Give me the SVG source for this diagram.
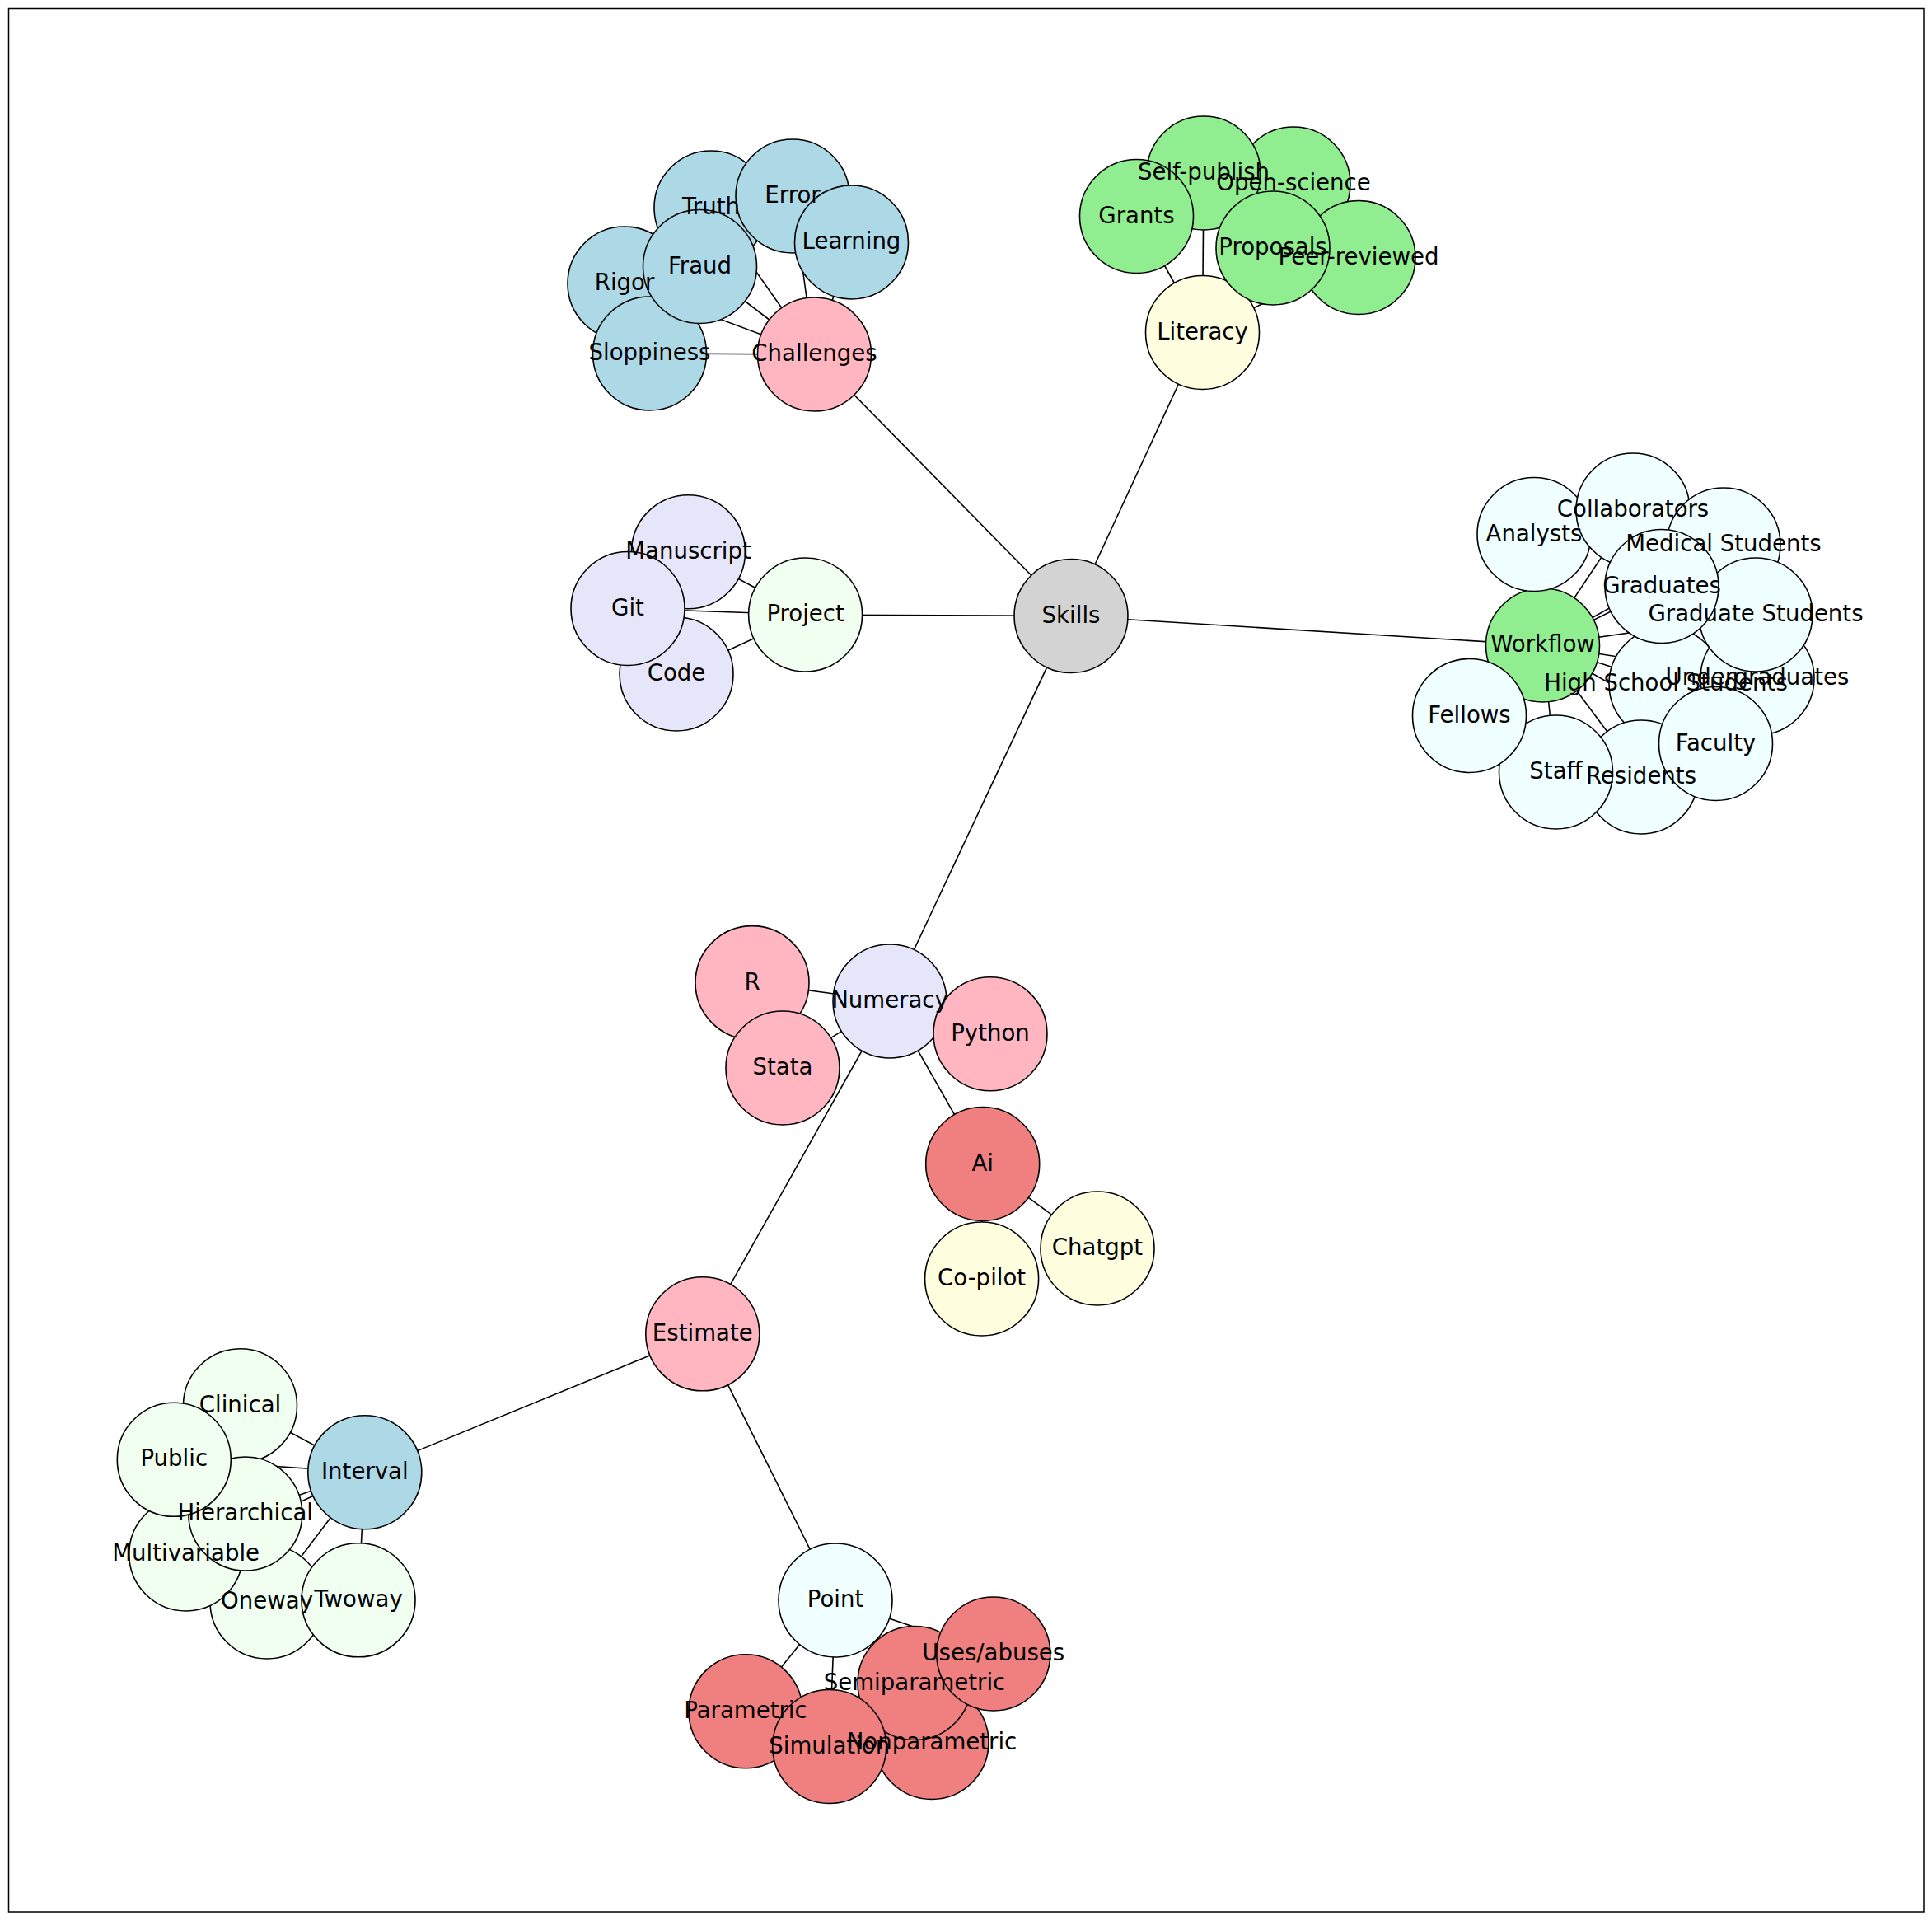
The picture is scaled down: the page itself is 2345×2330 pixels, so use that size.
<svg xmlns="http://www.w3.org/2000/svg" width="2345" height="2330" viewBox="0 0 2345 2330">
<style>
.e{stroke:#000;stroke-width:1.6;fill:none}
.n circle{stroke:#000;stroke-width:1.6}
.n text{font-family:"DejaVu Sans","Liberation Sans",sans-serif;font-size:27.6px;text-anchor:middle;fill:#000}
.gray{fill:#d3d3d3}.pink{fill:#ffb6c1}.blue{fill:#add8e6}.yel{fill:#ffffe0}.grn{fill:#90ee90}.azure{fill:#f0ffff}.hd{fill:#f0fff0}.lav{fill:#e6e6fa}.coral{fill:#f08080}
</style>
<rect x="10.5" y="10.5" width="2324.5" height="2309.5" fill="#fff" stroke="#000" stroke-width="1.5"/>
<g id="edges">
<line class="e" x1="1300" y1="747.5" x2="988.5" y2="430"/>
<line class="e" x1="1300" y1="747.5" x2="1459.5" y2="403.5"/>
<line class="e" x1="1300" y1="747.5" x2="1872.5" y2="783"/>
<line class="e" x1="1300" y1="747.5" x2="977.6" y2="746"/>
<line class="e" x1="1300" y1="747.5" x2="1080" y2="1215"/>
<line class="e" x1="988.5" y1="430" x2="863" y2="252"/>
<line class="e" x1="988.5" y1="430" x2="962" y2="238"/>
<line class="e" x1="988.5" y1="430" x2="1033.5" y2="294"/>
<line class="e" x1="988.5" y1="430" x2="758" y2="344"/>
<line class="e" x1="988.5" y1="430" x2="849.5" y2="323.5"/>
<line class="e" x1="988.5" y1="430" x2="788.5" y2="429"/>
<line class="e" x1="1459.5" y1="403.5" x2="1379.5" y2="262.5"/>
<line class="e" x1="1459.5" y1="403.5" x2="1461" y2="210"/>
<line class="e" x1="1459.5" y1="403.5" x2="1570" y2="223"/>
<line class="e" x1="1459.5" y1="403.5" x2="1545" y2="301"/>
<line class="e" x1="1459.5" y1="403.5" x2="1649" y2="312.5"/>
<line class="e" x1="1872.5" y1="783" x2="1862" y2="648.5"/>
<line class="e" x1="1872.5" y1="783" x2="1982" y2="619"/>
<line class="e" x1="1872.5" y1="783" x2="2092" y2="661"/>
<line class="e" x1="1872.5" y1="783" x2="2017" y2="711.5"/>
<line class="e" x1="1872.5" y1="783" x2="2131" y2="746"/>
<line class="e" x1="1872.5" y1="783" x2="2133" y2="823"/>
<line class="e" x1="1872.5" y1="783" x2="2022" y2="830"/>
<line class="e" x1="1872.5" y1="783" x2="1783.5" y2="868.5"/>
<line class="e" x1="1872.5" y1="783" x2="1888.5" y2="937"/>
<line class="e" x1="1872.5" y1="783" x2="1992" y2="943"/>
<line class="e" x1="1872.5" y1="783" x2="2082.5" y2="902.5"/>
<line class="e" x1="977.6" y1="746" x2="835.5" y2="669.7"/>
<line class="e" x1="977.6" y1="746" x2="762" y2="738.5"/>
<line class="e" x1="977.6" y1="746" x2="821" y2="818"/>
<line class="e" x1="1080" y1="1215" x2="913" y2="1192.6"/>
<line class="e" x1="1080" y1="1215" x2="950" y2="1296"/>
<line class="e" x1="1080" y1="1215" x2="1202" y2="1254.7"/>
<line class="e" x1="1080" y1="1215" x2="1192.7" y2="1412.5"/>
<line class="e" x1="1080" y1="1215" x2="852.8" y2="1618.8"/>
<line class="e" x1="1192.7" y1="1412.5" x2="1332" y2="1515"/>
<line class="e" x1="1192.7" y1="1412.5" x2="1191.6" y2="1552"/>
<line class="e" x1="852.8" y1="1618.8" x2="442.8" y2="1786.7"/>
<line class="e" x1="852.8" y1="1618.8" x2="1014" y2="1942"/>
<line class="e" x1="442.8" y1="1786.7" x2="291.5" y2="1705.8"/>
<line class="e" x1="442.8" y1="1786.7" x2="211.3" y2="1771.3"/>
<line class="e" x1="442.8" y1="1786.7" x2="297.8" y2="1837"/>
<line class="e" x1="442.8" y1="1786.7" x2="225.7" y2="1886"/>
<line class="e" x1="442.8" y1="1786.7" x2="324" y2="1944"/>
<line class="e" x1="442.8" y1="1786.7" x2="435" y2="1941.8"/>
<line class="e" x1="1014" y1="1942" x2="905" y2="2076.7"/>
<line class="e" x1="1014" y1="1942" x2="1006.7" y2="2119.5"/>
<line class="e" x1="1014" y1="1942" x2="1110" y2="2042.5"/>
<line class="e" x1="1014" y1="1942" x2="1131" y2="2114.5"/>
<line class="e" x1="1014" y1="1942" x2="1205.8" y2="2007"/>
</g>
<g id="nodes">
<g id="skills" class="n"><circle class="gray" cx="1300" cy="747.5" r="69"/></g>
<g id="challenges" class="n"><circle class="pink" cx="988.5" cy="430" r="69"/></g>
<g id="literacy" class="n"><circle class="yel" cx="1459.5" cy="403.5" r="69"/></g>
<g id="workflow" class="n"><circle class="grn" cx="1872.5" cy="783" r="69"/></g>
<g id="project" class="n"><circle class="hd" cx="977.6" cy="746" r="69"/></g>
<g id="numeracy" class="n"><circle class="lav" cx="1080" cy="1215" r="69"/></g>
<g id="truth" class="n"><circle class="blue" cx="863" cy="252" r="69"/></g>
<g id="error" class="n"><circle class="blue" cx="962" cy="238" r="69"/></g>
<g id="learning" class="n"><circle class="blue" cx="1033.5" cy="294" r="69"/></g>
<g id="rigor" class="n"><circle class="blue" cx="758" cy="344" r="69"/></g>
<g id="sloppiness" class="n"><circle class="blue" cx="788.5" cy="429" r="69"/></g>
<g id="fraud" class="n"><circle class="blue" cx="849.5" cy="323.5" r="69"/></g>
<g id="open-science" class="n"><circle class="grn" cx="1570" cy="223" r="69"/></g>
<g id="peer-reviewed" class="n"><circle class="grn" cx="1649" cy="312.5" r="69"/></g>
<g id="self-publish" class="n"><circle class="grn" cx="1461" cy="210" r="69"/></g>
<g id="grants" class="n"><circle class="grn" cx="1379.5" cy="262.5" r="69"/></g>
<g id="proposals" class="n"><circle class="grn" cx="1545" cy="301" r="69"/></g>
<g id="analysts" class="n"><circle class="azure" cx="1862" cy="648.5" r="69"/></g>
<g id="collaborators" class="n"><circle class="azure" cx="1982" cy="619" r="69"/></g>
<g id="medical-students" class="n"><circle class="azure" cx="2092" cy="661" r="69"/></g>
<g id="high-school-students" class="n"><circle class="azure" cx="2022" cy="830" r="69"/></g>
<g id="undergraduates" class="n"><circle class="azure" cx="2133" cy="823" r="69"/></g>
<g id="graduate-students" class="n"><circle class="azure" cx="2131" cy="746" r="69"/></g>
<g id="graduates" class="n"><circle class="azure" cx="2017" cy="711.5" r="69"/></g>
<g id="residents" class="n"><circle class="azure" cx="1992" cy="943" r="69"/></g>
<g id="staff" class="n"><circle class="azure" cx="1888.5" cy="937" r="69"/></g>
<g id="faculty" class="n"><circle class="azure" cx="2082.5" cy="902.5" r="69"/></g>
<g id="fellows" class="n"><circle class="azure" cx="1783.5" cy="868.5" r="69"/></g>
<g id="manuscript" class="n"><circle class="lav" cx="835.5" cy="669.7" r="69"/></g>
<g id="code" class="n"><circle class="lav" cx="821" cy="818" r="69"/></g>
<g id="git" class="n"><circle class="lav" cx="762" cy="738.5" r="69"/></g>
<g id="r" class="n"><circle class="pink" cx="913" cy="1192.6" r="69"/></g>
<g id="stata" class="n"><circle class="pink" cx="950" cy="1296" r="69"/></g>
<g id="python" class="n"><circle class="pink" cx="1202" cy="1254.7" r="69"/></g>
<g id="ai" class="n"><circle class="coral" cx="1192.7" cy="1412.5" r="69"/></g>
<g id="chatgpt" class="n"><circle class="yel" cx="1332" cy="1515" r="69"/></g>
<g id="co-pilot" class="n"><circle class="yel" cx="1191.6" cy="1552" r="69"/></g>
<g id="estimate" class="n"><circle class="pink" cx="852.8" cy="1618.8" r="69"/></g>
<g id="interval" class="n"><circle class="blue" cx="442.8" cy="1786.7" r="69"/></g>
<g id="point" class="n"><circle class="azure" cx="1014" cy="1942" r="69"/></g>
<g id="oneway" class="n"><circle class="hd" cx="324" cy="1944" r="69"/></g>
<g id="multivariable" class="n"><circle class="hd" cx="225.7" cy="1886" r="69"/></g>
<g id="clinical" class="n"><circle class="hd" cx="291.5" cy="1705.8" r="69"/></g>
<g id="hierarchical" class="n"><circle class="hd" cx="297.8" cy="1837" r="69"/></g>
<g id="public" class="n"><circle class="hd" cx="211.3" cy="1771.3" r="69"/></g>
<g id="twoway" class="n"><circle class="hd" cx="435" cy="1941.8" r="69"/></g>
<g id="parametric" class="n"><circle class="coral" cx="905" cy="2076.7" r="69"/></g>
<g id="nonparametric" class="n"><circle class="coral" cx="1131" cy="2114.5" r="69"/></g>
<g id="semiparametric" class="n"><circle class="coral" cx="1110" cy="2042.5" r="69"/></g>
<g id="simulation" class="n"><circle class="coral" cx="1006.7" cy="2119.5" r="69"/></g>
<g id="uses-abuses" class="n"><circle class="coral" cx="1205.8" cy="2007" r="69"/></g>
</g>
<g id="labels" class="n">
<text x="1300" y="755.5">Skills</text>
<text x="988.5" y="438">Challenges</text>
<text x="1459.5" y="411.5">Literacy</text>
<text x="1872.5" y="791">Workflow</text>
<text x="977.6" y="754">Project</text>
<text x="1080" y="1223">Numeracy</text>
<text x="863" y="260">Truth</text>
<text x="962" y="246">Error</text>
<text x="1033.5" y="302">Learning</text>
<text x="758" y="352">Rigor</text>
<text x="788.5" y="437">Sloppiness</text>
<text x="849.5" y="331.5">Fraud</text>
<text x="1570" y="231">Open-science</text>
<text x="1649" y="320.5">Peer-reviewed</text>
<text x="1461" y="218">Self-publish</text>
<text x="1379.5" y="270.5">Grants</text>
<text x="1545" y="309">Proposals</text>
<text x="1862" y="656.5">Analysts</text>
<text x="1982" y="627">Collaborators</text>
<text x="2092" y="669">Medical Students</text>
<text x="2022" y="838">High School Students</text>
<text x="2133" y="831">Undergraduates</text>
<text x="2131" y="754">Graduate Students</text>
<text x="2017" y="719.5">Graduates</text>
<text x="1992" y="951">Residents</text>
<text x="1888.5" y="945">Staff</text>
<text x="2082.5" y="910.5">Faculty</text>
<text x="1783.5" y="876.5">Fellows</text>
<text x="835.5" y="677.7">Manuscript</text>
<text x="821" y="826">Code</text>
<text x="762" y="746.5">Git</text>
<text x="913" y="1200.6">R</text>
<text x="950" y="1304">Stata</text>
<text x="1202" y="1262.7">Python</text>
<text x="1192.7" y="1420.5">Ai</text>
<text x="1332" y="1523">Chatgpt</text>
<text x="1191.6" y="1560">Co-pilot</text>
<text x="852.8" y="1626.8">Estimate</text>
<text x="442.8" y="1794.7">Interval</text>
<text x="1014" y="1950">Point</text>
<text x="324" y="1952">Oneway</text>
<text x="225.7" y="1894">Multivariable</text>
<text x="291.5" y="1713.8">Clinical</text>
<text x="297.8" y="1845">Hierarchical</text>
<text x="211.3" y="1779.3">Public</text>
<text x="435" y="1949.8">Twoway</text>
<text x="905" y="2084.7">Parametric</text>
<text x="1131" y="2122.5">Nonparametric</text>
<text x="1110" y="2050.5">Semiparametric</text>
<text x="1006.7" y="2127.5">Simulation</text>
<text x="1205.8" y="2015">Uses/abuses</text>
</g>
</svg>
